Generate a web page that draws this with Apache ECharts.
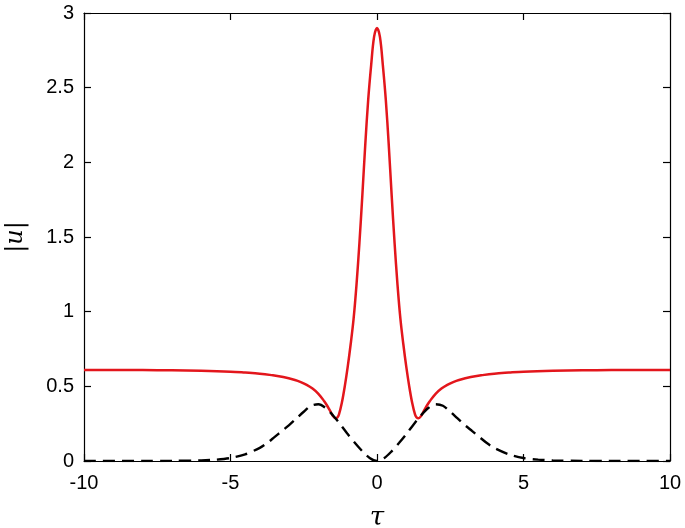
<!DOCTYPE html>
<html>
<head>
<meta charset="utf-8">
<script src="https://cdn.jsdelivr.net/npm/echarts@6/dist/echarts.min.js"></script>
<style>html,body{margin:0;padding:0;background:#fff}#c{width:685px;height:528px}</style>
</head>
<body>
<div id="c"></div>
<script>
var xTicks = [-10, -5, 0, 5, 10];
var yTicks = [0, 0.5, 1, 1.5, 2, 2.5, 3];

var tauRed = [-10,-9,-8,-7,-6,-5,-4.5,-4,-3.6,-3.2,-2.8,-2.6,-2.4,-2.2,-2.0,-1.8,-1.7,-1.6,-1.5,-1.42,-1.35,-1.3,-1.2,-1.1,-1.0,-0.9,-0.8,-0.7,-0.6,-0.5,-0.4,-0.3,-0.2,-0.1,0,
              0.1,0.2,0.3,0.4,0.5,0.6,0.7,0.8,0.9,1.0,1.1,1.2,1.3,1.35,1.42,1.5,1.6,1.7,1.8,2.0,2.2,2.4,2.6,2.8,3.2,3.6,4,4.5,5,6,7,8,9,10];
var redVals = [0.61,0.61,0.609,0.607,0.604,0.598,0.592,0.585,0.575,0.562,0.542,0.528,0.51,0.485,0.45,0.4,0.37,0.335,0.3,0.286,0.292,0.31,0.39,0.50,0.63,0.78,0.95,1.18,1.46,1.78,2.12,2.42,2.65,2.84,2.90,
               2.84,2.65,2.42,2.12,1.78,1.46,1.18,0.95,0.78,0.63,0.50,0.39,0.31,0.292,0.286,0.3,0.335,0.37,0.4,0.45,0.485,0.51,0.528,0.542,0.562,0.575,0.585,0.592,0.598,0.604,0.607,0.609,0.61,0.61];

var tauBlack = [-10,-8,-7,-6,-5.5,-5,-4.5,-4,-3.75,-3.5,-3.25,-3,-2.75,-2.5,-2.25,-2,-1.75,-1.5,-1.25,-1,-0.75,-0.5,-0.25,0,
                0.25,0.5,0.75,1,1.25,1.5,1.75,2,2.25,2.5,2.75,3,3.25,3.5,3.75,4,4.5,5,5.5,6,7,8,10];
var blackVals = [0,0,0.001,0.004,0.009,0.02,0.045,0.088,0.12,0.16,0.2,0.24,0.285,0.33,0.37,0.38,0.355,0.305,0.245,0.18,0.12,0.065,0.02,0,
                 0.02,0.065,0.12,0.18,0.245,0.305,0.355,0.38,0.37,0.33,0.285,0.24,0.2,0.16,0.12,0.088,0.045,0.02,0.009,0.004,0.001,0,0];

function pairs(xs, ys){ return xs.map(function(x,i){ return [x, ys[i]]; }); }

var FONT = 'Liberation Sans, Arial, Helvetica, sans-serif';
var chart = echarts.init(document.getElementById('c'));
var axisLine = {show:true, onZero:false, lineStyle:{color:'#000', width:1.2}};
var tick = {show:true, inside:true, length:7, lineStyle:{color:'#000', width:1.2}};
chart.setOption({
  animation:false,
  backgroundColor:'#fff',
  grid:{left:84, right:15, top:13, bottom:67, containLabel:false, outerBoundsMode:'none'},
  xAxis:[
    {type:'value', min:xTicks[0], max:xTicks[xTicks.length-1], interval:5, position:'bottom',
     axisLine:axisLine, axisTick:tick, splitLine:{show:false},
     axisLabel:{color:'#000', fontSize:20, fontFamily:FONT, margin:12},
     name:'τ', nameLocation:'middle', nameGap:44,
     nameTextStyle:{color:'#000', fontSize:26, fontStyle:'italic', fontFamily:'DejaVu Serif, serif'}},
    {type:'value', min:xTicks[0], max:xTicks[xTicks.length-1], interval:5, position:'top',
     axisLine:axisLine, axisTick:tick, splitLine:{show:false}, axisLabel:{show:false}}
  ],
  yAxis:[
    {type:'value', min:yTicks[0], max:yTicks[yTicks.length-1], interval:0.5, position:'left',
     axisLine:axisLine, axisTick:tick, splitLine:{show:false},
     axisLabel:{color:'#000', fontSize:20, fontFamily:FONT, margin:10},
     name:'|{i|u}|', nameLocation:'middle', nameGap:56,
     nameTextStyle:{color:'#000', fontSize:24, fontFamily:'DejaVu Serif, serif',
       rich:{i:{fontStyle:'italic', fontSize:24, fontFamily:'DejaVu Serif, serif', color:'#000'}}}},
    {type:'value', min:yTicks[0], max:yTicks[yTicks.length-1], interval:0.5, position:'right',
     axisLine:axisLine, axisTick:tick, splitLine:{show:false}, axisLabel:{show:false}}
  ],
  series:[
    {type:'line', data:pairs(tauRed, redVals), showSymbol:false, smooth:0.35,
     lineStyle:{color:'#e3161c', width:2.5}, z:2},
    {type:'line', data:pairs(tauBlack, blackVals), showSymbol:false, smooth:0.3,
     lineStyle:{color:'#000', width:2.4, type:[12,7]}, z:3}
  ]
});
</script>
</body>
</html>
